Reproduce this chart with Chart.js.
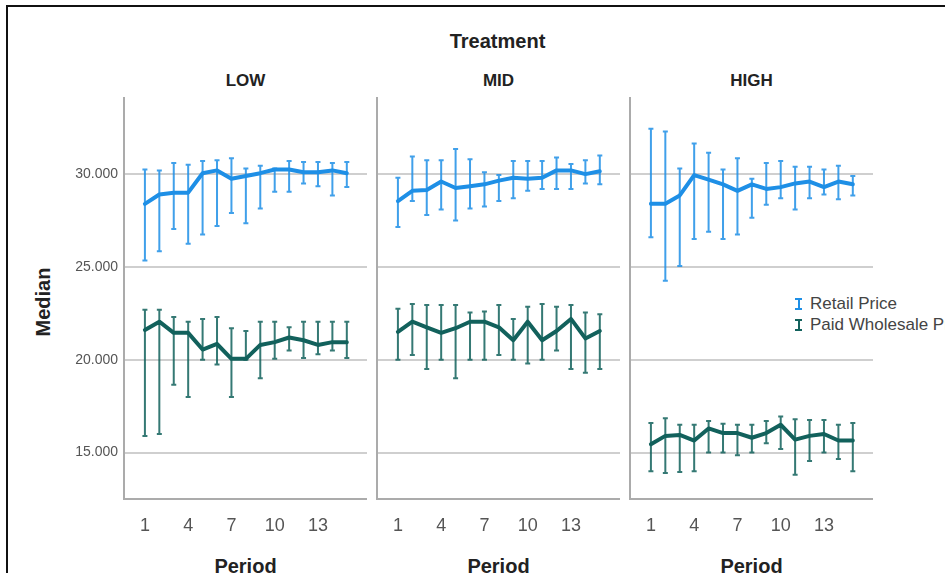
<!DOCTYPE html>
<html>
<head>
<meta charset="utf-8">
<script src="https://cdn.jsdelivr.net/npm/chart.js@4.4.1/dist/chart.umd.min.js"></script>
<style>
    body { margin: 0; width: 945px; height: 573px; overflow: hidden; background: #fff; font-family: "Liberation Sans", Arial, sans-serif; position: relative; }
    .frame { position: absolute; left: 6px; top: 5px; width: 950px; height: 580px; border-top: 2px solid #111; border-left: 2px solid #111; }
    .txt { position: absolute; color: #222; font-weight: bold; white-space: nowrap; }
    .panel { position: absolute; top: 90px; }
    .leg { position: absolute; left: 795px; font-size: 17px; color: #444; white-space: nowrap; }
    .ib { display: inline-block; position: relative; width: 7px; height: 12px; box-sizing: border-box; border-top: 2px solid currentColor; border-bottom: 2px solid currentColor; margin-right: 8px; vertical-align: -1px; }
    .ib::after { content: ''; position: absolute; left: 2.5px; top: 0; bottom: 0; width: 2px; background: currentColor; }
</style>
</head>
<body>
<div class="frame"></div>
<div class="txt" style="left:0;width:995px;text-align:center;top:30px;font-size:20px">Treatment</div>
<div class="txt" style="left:124px;width:243px;text-align:center;top:71px;font-size:17px">LOW</div>
<div class="txt" style="left:377px;width:243px;text-align:center;top:71px;font-size:17px">MID</div>
<div class="txt" style="left:630px;width:243px;text-align:center;top:71px;font-size:17px">HIGH</div>
<div class="txt" style="left:43px;top:302px;font-size:20px;transform:translate(-50%,-50%) rotate(-90deg)">Median</div>
<div class="txt" style="left:124px;width:243px;text-align:center;top:555px;font-size:20px">Period</div>
<div class="txt" style="left:377px;width:243px;text-align:center;top:555px;font-size:20px">Period</div>
<div class="txt" style="left:630px;width:243px;text-align:center;top:555px;font-size:20px">Period</div>
<div class="leg" style="top:294px"><span class="ib" style="color:#1e8fe6"></span>Retail Price</div>
<div class="leg" style="top:315px"><span class="ib" style="color:#12615c"></span>Paid Wholesale Price</div>

<canvas id="pLow" class="panel" style="left:58px" width="309" height="450"></canvas>
<canvas id="pMid" class="panel" style="left:373px" width="247" height="450"></canvas>
<canvas id="pHigh" class="panel" style="left:626px" width="247" height="450"></canvas>

<script>
const periods = [1, 2, 3, 4, 5, 6, 7, 8, 9, 10, 11, 12, 13, 14, 15];
const periodTicks = [1, 4, 7, 10, 13];
const medianTicks = [15000, 20000, 25000, 30000];
const medianTickLabels = ['15.000', '20.000', '25.000', '30.000'];
const seriesNames = ['Retail Price', 'Paid Wholesale Price'];

// LOW treatment
const lowRetail = [28400, 28900, 29000, 29000, 30050, 30200, 29750, 29900, 30050, 30250, 30250, 30100, 30100, 30200, 30050];
const lowRetailLo = [25350, 25850, 27050, 26250, 26750, 27200, 27900, 27350, 28150, 29050, 29050, 29500, 29350, 28850, 29300];
const lowRetailHi = [30250, 30200, 30600, 30500, 30700, 30750, 30850, 30300, 30450, 30300, 30700, 30650, 30650, 30600, 30650];
const lowWholesale = [21600, 22050, 21450, 21450, 20550, 20850, 20050, 20050, 20800, 20950, 21200, 21050, 20800, 20950, 20950];
const lowWholesaleLo = [15900, 16000, 18650, 18000, 20000, 19750, 18000, 20000, 19000, 20050, 20500, 20100, 20300, 20500, 20100];
const lowWholesaleHi = [22700, 22700, 22300, 22050, 22200, 22300, 21700, 21550, 22050, 22050, 21750, 22050, 22050, 22050, 22050];

// MID treatment
const midRetail = [28550, 29100, 29150, 29600, 29250, 29350, 29450, 29650, 29800, 29750, 29800, 30200, 30200, 30000, 30150];
const midRetailLo = [27150, 28550, 27800, 28100, 27500, 28150, 28250, 28550, 28700, 29100, 29200, 29200, 29200, 29500, 29450];
const midRetailHi = [29800, 30950, 30750, 30750, 31350, 30800, 30100, 29950, 30700, 30700, 30700, 30900, 30550, 30750, 31000];
const midWholesale = [21500, 22050, 21750, 21450, 21700, 22050, 22050, 21750, 21050, 22050, 21050, 21550, 22200, 21150, 21550];
const midWholesaleLo = [20000, 20250, 19500, 20000, 19000, 20000, 20000, 20250, 20000, 19800, 20000, 20500, 19500, 19300, 19500];
const midWholesaleHi = [22750, 23000, 22950, 22950, 22950, 22550, 22600, 22950, 22200, 22850, 23000, 22850, 22950, 22550, 22450];

// HIGH treatment
const highRetail = [28400, 28400, 28850, 29950, 29700, 29450, 29100, 29450, 29200, 29300, 29500, 29600, 29300, 29600, 29450];
const highRetailLo = [26600, 24250, 25050, 26500, 26900, 26500, 26750, 27650, 28350, 28700, 28100, 28700, 28900, 28650, 28850];
const highRetailHi = [32450, 32300, 30300, 31650, 31150, 30250, 30850, 29750, 30600, 30700, 30400, 30400, 30250, 30450, 29900];
const highWholesale = [15450, 15900, 15950, 15650, 16300, 16050, 16050, 15800, 16050, 16500, 15700, 15900, 16000, 15650, 15650];
const highWholesaleLo = [14000, 13900, 13950, 14000, 15000, 15000, 14850, 15000, 15500, 15200, 13800, 14550, 15000, 14650, 14000];
const highWholesaleHi = [16600, 16850, 16500, 16500, 16700, 16550, 16500, 16500, 16700, 16950, 16800, 16750, 16750, 16500, 16600];

const retailColor = '#1e8fe6';
const wholesaleColor = '#12615c';

// Draws the error bars (with caps) under the median lines
const errorBars = {
    id: 'errorBars',
    beforeDatasetsDraw(chart) {
        const ctx = chart.ctx;
        const xs = chart.scales.x;
        const ys = chart.scales.y;
        chart.data.datasets.forEach(ds => {
            ctx.save();
            ctx.strokeStyle = ds.errColor;
            ctx.lineWidth = 2;
            ds.data.forEach((pt, i) => {
                const x = xs.getPixelForValue(pt.x);
                const yLo = ys.getPixelForValue(ds.errLo[i]);
                const yHi = ys.getPixelForValue(ds.errHi[i]);
                ctx.beginPath();
                ctx.moveTo(x, yLo);
                ctx.lineTo(x, yHi);
                ctx.moveTo(x - 2.5, yLo);
                ctx.lineTo(x + 2.5, yLo);
                ctx.moveTo(x - 2.5, yHi);
                ctx.lineTo(x + 2.5, yHi);
                ctx.stroke();
            });
            ctx.restore();
        });
    }
};

function makeDataset(name, med, lo, hi, color, errColor) {
    return {
        label: name,
        data: periods.map((p, i) => ({ x: p, y: med[i] })),
        errLo: lo,
        errHi: hi,
        errColor: errColor,
        borderColor: color,
        borderWidth: 4,
        pointRadius: 0,
        tension: 0,
        borderJoinStyle: 'round',
        borderCapStyle: 'round'
    };
}

function createPanel(id, retail, retailLo, retailHi, wholesale, wholesaleLo, wholesaleHi, showY) {
    const ctx = document.getElementById(id);
    new Chart(ctx, {
        type: 'line',
        data: {
            datasets: [
                makeDataset(seriesNames[0], retail, retailLo, retailHi, retailColor, 'rgba(30,143,230,0.85)'),
                makeDataset(seriesNames[1], wholesale, wholesaleLo, wholesaleHi, wholesaleColor, 'rgba(18,97,92,0.85)')
            ]
        },
        options: {
            responsive: false,
            animation: false,
            layout: { padding: { top: 8, left: showY ? 0 : 4, right: 0, bottom: 0 } },
            plugins: { legend: { display: false }, tooltip: { enabled: false } },
            scales: {
                x: {
                    type: 'linear',
                    min: -0.45,
                    max: 16.4,
                    afterBuildTicks: s => { s.ticks = periodTicks.map(v => ({ value: v })); },
                    afterFit: s => { s.height = 41; s.paddingLeft = 0; s.paddingRight = 0; },
                    grid: { display: false },
                    border: { display: true, color: '#ababab', width: 2 },
                    ticks: { color: '#555', font: { family: 'Liberation Sans', size: 18 }, padding: 8, maxRotation: 0 }
                },
                y: {
                    min: 12500,
                    max: 34100,
                    afterBuildTicks: s => { s.ticks = medianTicks.map(v => ({ value: v })); },
                    afterFit: s => { s.width = showY ? 66 : 0; s.paddingTop = 0; s.paddingBottom = 0; },
                    grid: { color: '#cfcfcf', lineWidth: 2, drawTicks: false },
                    border: { display: true, color: '#ababab', width: 2 },
                    ticks: {
                        display: showY,
                        color: '#555',
                        padding: 6,
                        font: { family: 'Liberation Sans', size: 14 },
                        callback: v => medianTickLabels[medianTicks.indexOf(v)]
                    }
                }
            }
        },
        plugins: [errorBars]
    });
}

document.addEventListener("DOMContentLoaded", function () {
    createPanel('pLow', lowRetail, lowRetailLo, lowRetailHi, lowWholesale, lowWholesaleLo, lowWholesaleHi, true);
    createPanel('pMid', midRetail, midRetailLo, midRetailHi, midWholesale, midWholesaleLo, midWholesaleHi, false);
    createPanel('pHigh', highRetail, highRetailLo, highRetailHi, highWholesale, highWholesaleLo, highWholesaleHi, false);
});
</script>
</body>
</html>
